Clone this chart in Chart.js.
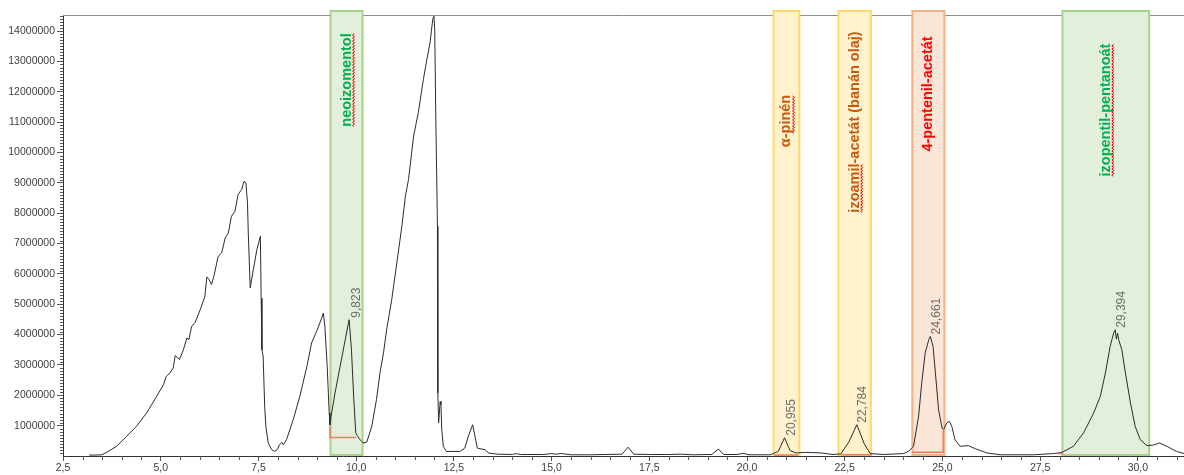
<!DOCTYPE html>
<html>
<head>
<meta charset="utf-8">
<script src="https://cdn.jsdelivr.net/npm/chart.js@4"></script>
<style>
    html, body { margin: 0; padding: 0; background: #fff; }
    canvas { display: block; }
</style>
</head>
<body>
<canvas id="chromatogram" width="1184" height="475"></canvas>
<script>
// Retention time (min) and intensity
const retentionTime = [
    3.17, 3.30, 3.49, 3.62, 3.87, 4.13, 4.38, 4.64, 4.90, 5.07, 5.14, 5.24, 5.32, 5.37, 5.48,
    5.58, 5.67, 5.72, 5.79, 5.88, 6.01, 6.13, 6.18, 6.24, 6.30, 6.36, 6.47, 6.56, 6.65, 6.73,
    6.81, 6.90, 6.98, 7.07, 7.13, 7.18, 7.22, 7.24, 7.29, 7.37, 7.46, 7.55, 7.57, 7.59, 7.62,
    7.66, 7.69, 7.75, 7.84, 7.92, 7.98, 8.04, 8.10, 8.14, 8.22, 8.39, 8.56, 8.74, 8.86, 8.99,
    9.12, 9.16, 9.20, 9.26, 9.31, 9.33, 9.36, 9.46, 9.59, 9.72, 9.82, 9.88, 9.94, 9.99, 10.03,
    10.10, 10.18, 10.27, 10.40, 10.52, 10.61, 10.70, 10.78, 10.91, 11.04, 11.17, 11.26, 11.34, 11.47, 11.59,
    11.72, 11.81, 11.89, 11.96, 11.99, 12.01, 12.04, 12.08, 12.09, 12.11, 12.15, 12.17, 12.19, 12.23, 12.31,
    12.48, 12.65, 12.78, 12.87, 12.98, 13.04, 13.10, 13.21, 13.30, 13.38, 13.60, 14.00, 14.10, 14.20, 14.80,
    15.00, 15.10, 15.25, 15.50, 16.00, 16.80, 16.96, 17.10, 17.50, 18.00, 18.30, 18.60, 19.10, 19.27, 19.40,
    19.75, 19.90, 20.05, 20.60, 20.80, 20.96, 21.10, 21.25, 21.50, 21.90, 22.20, 22.40, 22.60, 22.81, 23.00,
    23.15, 23.50, 24.00, 24.13, 24.26, 24.39, 24.47, 24.56, 24.65, 24.69, 24.76, 24.82, 24.90, 24.99, 25.03,
    25.11, 25.18, 25.24, 25.32, 25.45, 25.67, 25.84, 26.14, 26.48, 27.33, 27.84, 28.06, 28.35, 28.61, 28.87,
    29.04, 29.17, 29.29, 29.38, 29.42, 29.45, 29.48, 29.51, 29.59, 29.68, 29.81, 29.93, 30.06, 30.23, 30.40,
    30.55, 30.74, 30.99, 31.18
];
const intensity = [
    30000, 30000, 40000, 120000, 320000, 650000, 980000, 1420000, 1970000, 2350000, 2620000, 2740000, 2900000, 3310000, 3180000,
    3500000, 3890000, 3830000, 4270000, 4400000, 4820000, 5260000, 5900000, 5810000, 5650000, 5920000, 6580000, 6690000, 7190000, 7350000,
    7900000, 8060000, 8620000, 8780000, 9050000, 9000000, 8340000, 7350000, 5540000, 6140000, 6800000, 7240000, 5200000, 3500000, 3300000,
    1640000, 980000, 430000, 210000, 150000, 210000, 370000, 450000, 370000, 540000, 1200000, 1970000, 2950000, 3730000, 4110000,
    4550000, 4710000, 4270000, 2950000, 1420000, 1030000, 1310000, 2080000, 2950000, 3830000, 4490000, 3500000, 1860000, 760000, 670000,
    540000, 430000, 450000, 980000, 1860000, 2740000, 3400000, 4160000, 5150000, 6360000, 7570000, 8560000, 9110000, 10540000, 11310000,
    12410000, 13070000, 13620000, 14390000, 14490000, 14060000, 10980000, 7570000, 2080000, 1090000, 1800000, 1690000, 870000, 320000, 150000,
    150000, 150000, 260000, 650000, 1030000, 650000, 260000, 230000, 210000, 100000, 60000, 50000, 80000, 50000, 50000,
    80000, 60000, 80000, 40000, 40000, 60000, 290000, 60000, 50000, 50000, 60000, 40000, 50000, 230000, 50000,
    50000, 90000, 40000, 40000, 150000, 600000, 180000, 100000, 120000, 100000, 50000, 70000, 450000, 1030000, 400000,
    80000, 50000, 80000, 150000, 320000, 1310000, 2410000, 3400000, 3830000, 3940000, 3610000, 2740000, 1530000, 920000, 870000,
    1090000, 1140000, 980000, 540000, 320000, 340000, 240000, 100000, 40000, 40000, 80000, 120000, 320000, 760000, 1420000,
    1970000, 2740000, 3610000, 4050000, 4160000, 3850000, 4050000, 3830000, 3500000, 2740000, 1750000, 980000, 540000, 340000, 360000,
    430000, 320000, 150000, 80000
];

// Integration baselines (red segments under the integrated peaks)
const neoBaseTime = [9.33, 9.33, 10.0];
const neoBaseValue = [1000000, 610000, 610000];
const pinenBaseTime = [20.70, 21.30];
const pinenBaseValue = [30000, 30000];
const izoamilBaseTime = [22.40, 23.20];
const izoamilBaseValue = [40000, 40000];
const pentenilBaseTime = [24.23, 25.02, 25.02];
const pentenilBaseValue = [120000, 120000, 880000];
const izopentilBaseTime = [27.95, 28.08];
const izopentilBaseValue = [80000, 80000];

// Peak apex labels
const peakTimes = [9.823, 20.955, 22.784, 24.661, 29.394];
const peakHeights = [4490000, 600000, 1030000, 3940000, 4160000];
const peakLabels = ['9,823', '20,955', '22,784', '24,661', '29,394'];

// Highlighted compound regions
const compoundNames = ['neoizomentol', 'α-pinén', 'izoamil-acetát (banán olaj)', '4-pentenil-acetát', 'izopentil-pentanoát'];
const regionStart = [9.345, 20.68, 22.34, 24.23, 28.07];
const regionEnd = [10.164, 21.34, 23.17, 25.05, 30.29];

// Axis ticks
const xTickValues = [2.5, 5, 7.5, 10, 12.5, 15, 17.5, 20, 22.5, 25, 27.5, 30];
const xTickLabels = ['2,5', '5,0', '7,5', '10,0', '12,5', '15,0', '17,5', '20,0', '22,5', '25,0', '27,5', '30,0'];
const yTickValues = [1000000, 2000000, 3000000, 4000000, 5000000, 6000000, 7000000,
    8000000, 9000000, 10000000, 11000000, 12000000, 13000000, 14000000];
const yTickLabels = ['1000000', '2000000', '3000000', '4000000', '5000000', '6000000', '7000000',
    '8000000', '9000000', '10000000', '11000000', '12000000', '13000000', '14000000'];

// Styles of the highlight boxes (same order as compoundNames)
const regionStyles = [
    { fill: '#e2efda', stroke: '#a9d18e', color: '#00b050', textY: 80, underline: [0, 12] },
    { fill: '#fff2cc', stroke: '#ffd966', color: '#c55a11', textY: 121, underline: [2, 7] },
    { fill: '#fff2cc', stroke: '#ffd966', color: '#c55a11', textY: 122, underline: [0, 7] },
    { fill: '#fbe5d6', stroke: '#f4b183', color: '#ff0000', textY: 94, underline: null },
    { fill: '#e2efda', stroke: '#a9d18e', color: '#00b050', textY: 110, underline: [0, 19] }
];

const FONT = '"Liberation Sans", Arial, sans-serif';

function toPoints(xs, ys) {
    return xs.map((x, i) => ({ x: x, y: ys[i] }));
}

function squiggle(ctx, x1, x2, y) {
    // wavy spell-check underline
    ctx.beginPath();
    let up = true;
    ctx.moveTo(x1, y);
    for (let x = x1 + 1.5; x <= x2; x += 1.5) {
        ctx.lineTo(x, up ? y - 1 : y + 1);
        up = !up;
    }
    ctx.stroke();
}

const regionsPlugin = {
    id: 'regions',
    beforeDatasetsDraw(chart) {
        const ctx = chart.ctx;
        const area = chart.chartArea;
        const xs = chart.scales.x;

        // top frame line
        ctx.save();
        ctx.strokeStyle = '#8c8c8c';
        ctx.lineWidth = 1;
        ctx.beginPath();
        ctx.moveTo(area.left, area.top + 0.5);
        ctx.lineTo(area.right, area.top + 0.5);
        ctx.stroke();

        // highlight boxes
        compoundNames.forEach((name, i) => {
            const st = regionStyles[i];
            const left = xs.getPixelForValue(regionStart[i]);
            const right = xs.getPixelForValue(regionEnd[i]);
            const top = area.top - 4;
            const bottom = area.bottom - 1;
            ctx.fillStyle = st.fill;
            ctx.fillRect(left, top, right - left, bottom - top);
            ctx.strokeStyle = st.stroke;
            ctx.lineWidth = 2;
            ctx.strokeRect(left, top, right - left, bottom - top);
        });
        ctx.restore();
    },
    afterDatasetsDraw(chart) {
        const ctx = chart.ctx;
        const area = chart.chartArea;
        const xs = chart.scales.x;
        const ys = chart.scales.y;

        ctx.save();
        // compound names, rotated
        ctx.font = 'bold 14.5px ' + FONT;
        compoundNames.forEach((name, i) => {
            const st = regionStyles[i];
            const cx = (xs.getPixelForValue(regionStart[i]) + xs.getPixelForValue(regionEnd[i])) / 2;
            ctx.save();
            ctx.translate(cx, st.textY);
            ctx.rotate(-Math.PI / 2);
            ctx.textAlign = 'center';
            ctx.textBaseline = 'middle';
            ctx.fillStyle = st.color;
            ctx.fillText(name, 0, 0);
            if (st.underline) {
                const total = ctx.measureText(name).width;
                const a = -total / 2 + ctx.measureText(name.slice(0, st.underline[0])).width;
                const b = -total / 2 + ctx.measureText(name.slice(0, st.underline[1])).width;
                ctx.strokeStyle = '#ff0000';
                ctx.lineWidth = 1;
                squiggle(ctx, a, b, 7);
            }
            ctx.restore();
        });

        // peak apex labels
        ctx.font = '12px ' + FONT;
        ctx.fillStyle = '#6e6e6e';
        peakTimes.forEach((t, i) => {
            const px = xs.getPixelForValue(t) + 7;
            const py = ys.getPixelForValue(peakHeights[i]) - 2;
            ctx.save();
            ctx.translate(px, py);
            ctx.rotate(-Math.PI / 2);
            ctx.textAlign = 'left';
            ctx.textBaseline = 'middle';
            ctx.fillText(peakLabels[i], 0, 0);
            ctx.restore();
        });

        // minor ticks
        ctx.strokeStyle = '#555';
        ctx.lineWidth = 1;
        ctx.beginPath();
        for (let v = 100000; v < ys.max; v += 100000) {
            if (v % 1000000 === 0) continue;
            const y = Math.round(ys.getPixelForValue(v)) + 0.5;
            ctx.moveTo(area.left - 3, y);
            ctx.lineTo(area.left, y);
        }
        for (let k = 6; k * 0.5 <= xs.max; k++) {
            if (k % 5 === 0) continue;
            const x = Math.round(xs.getPixelForValue(k * 0.5)) + 0.5;
            ctx.moveTo(x, area.bottom);
            ctx.lineTo(x, area.bottom + 4);
        }
        ctx.stroke();
        ctx.restore();
    }
};

const baseStyle = {
    borderColor: '#f07a66',
    borderWidth: 1.5,
    pointRadius: 0,
    tension: 0,
    fill: false
};

const chart = new Chart(document.getElementById('chromatogram').getContext('2d'), {
    type: 'line',
    data: {
        datasets: [
            Object.assign({ label: 'neo base', data: toPoints(neoBaseTime, neoBaseValue), order: 0 }, baseStyle),
            Object.assign({ label: 'pinen base', data: toPoints(pinenBaseTime, pinenBaseValue), order: 0 }, baseStyle),
            Object.assign({ label: 'izoamil base', data: toPoints(izoamilBaseTime, izoamilBaseValue), order: 0 }, baseStyle),
            Object.assign({ label: 'pentenil base', data: toPoints(pentenilBaseTime, pentenilBaseValue), order: 0 }, baseStyle),
            Object.assign({ label: 'izopentil base', data: toPoints(izopentilBaseTime, izopentilBaseValue), order: 0 }, baseStyle),
            {
                label: 'TIC',
                data: toPoints(retentionTime, intensity),
                borderColor: '#2b2b2b',
                borderWidth: 1,
                pointRadius: 0,
                tension: 0,
                fill: false,
                order: 1
            }
        ]
    },
    options: {
        responsive: false,
        animation: false,
        layout: { padding: { top: 15, right: 0, left: 0, bottom: 0 } },
        plugins: {
            legend: { display: false },
            tooltip: { enabled: false }
        },
        scales: {
            x: {
                type: 'linear',
                min: 2.5,
                max: 31.18,
                border: { display: true, color: '#333', width: 1 },
                grid: { drawOnChartArea: false, drawTicks: true, tickLength: 5, tickColor: '#555' },
                ticks: {
                    autoSkip: false,
                    maxRotation: 0,
                    padding: 1,
                    color: '#404040',
                    font: { family: FONT, size: 10.5 },
                    callback: function(value, index) {
                        return xTickLabels[index];
                    }
                },
                afterBuildTicks: function(scale) {
                    scale.ticks = xTickValues.map(v => ({ value: v }));
                },
                afterFit: function(scale) {
                    scale.height = 19;
                }
            },
            y: {
                type: 'linear',
                min: 0,
                max: 14530000,
                border: { display: true, color: '#333', width: 1 },
                grid: { drawOnChartArea: false, drawTicks: true, tickLength: 6, tickColor: '#555' },
                ticks: {
                    autoSkip: false,
                    padding: 2,
                    color: '#404040',
                    font: { family: FONT, size: 10.5 },
                    callback: function(value, index) {
                        return yTickLabels[index];
                    }
                },
                afterBuildTicks: function(scale) {
                    scale.ticks = yTickValues.map(v => ({ value: v }));
                },
                afterFit: function(scale) {
                    scale.width = 63;
                }
            }
        }
    },
    plugins: [regionsPlugin]
});
</script>
</body>
</html>
